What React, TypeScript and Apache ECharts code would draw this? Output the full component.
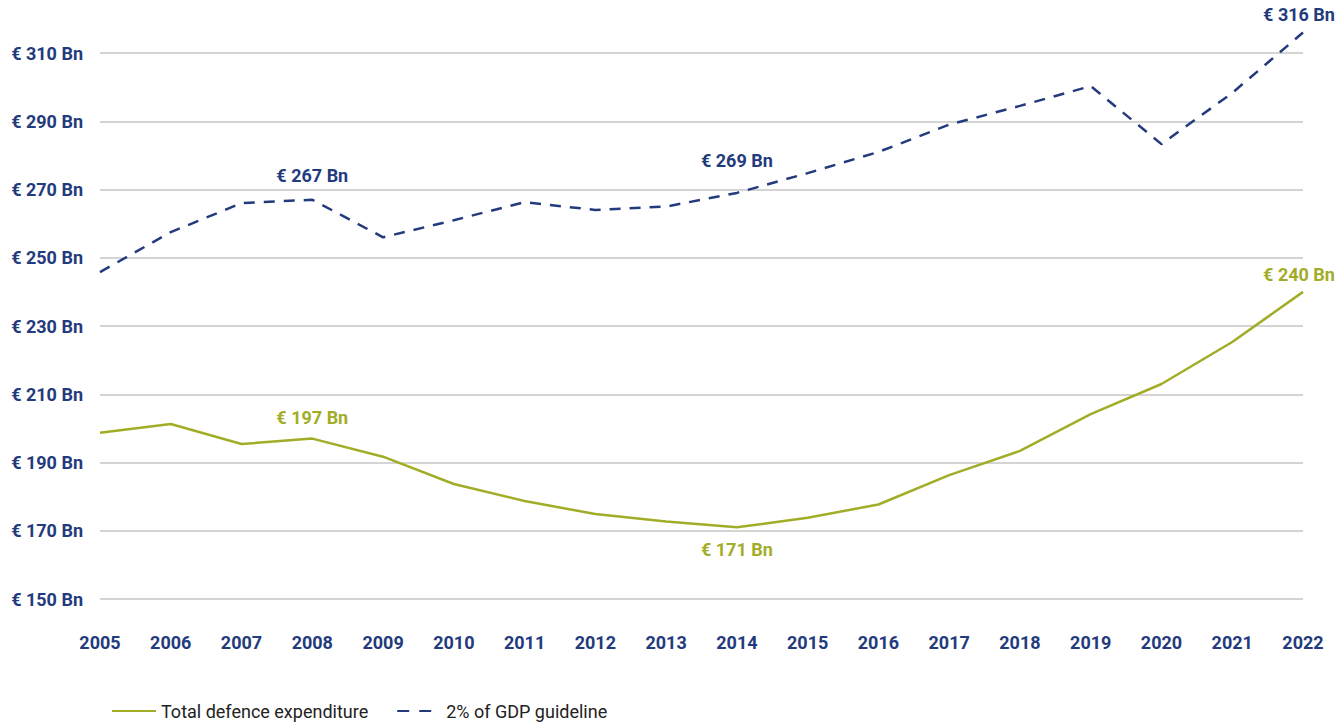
import React, { useEffect, useRef } from "react";
import * as echarts from "echarts";

const years = ["2005","2006","2007","2008","2009","2010","2011","2012","2013","2014","2015","2016","2017","2018","2019","2020","2021","2022"];
const totalDefence = [198.7, 201.3, 195.4, 197, 191.7, 183.7, 178.7, 174.9, 172.7, 171, 173.8, 177.7, 186.3, 193.4, 204.2, 213, 225.3, 240];
const gdpGuideline = [245.8, 257.5, 266, 267, 256, 261, 266.3, 264, 265, 269, 274.8, 281, 289, 294.5, 300.3, 283.3, 298.3, 316];
const yTicks = [150, 170, 190, 210, 230, 250, 270, 290, 310];

// labelled points: index -> [position, distance]
const totalLabels: Record<number, [string, number]> = { 3: ["top", 12], 9: ["bottom", 13], 17: ["top", 8] };
const gdpLabels: Record<number, [string, number]> = { 3: ["top", 15], 9: ["top", 23], 17: ["top", 9] };

const NAVY = "#233b7d";
const GREEN = "#a2ad27";
const FONT = "Roboto";

function buildData(values: number[], labels: Record<number, [string, number]>, color: string) {
  return values.map((v, i) => {
    const l = labels[i];
    if (!l) return v;
    return {
      value: v,
      label: {
        show: true,
        position: l[0],
        distance: l[1],
        formatter: "€ " + Math.round(v) + " Bn",
        color,
        fontFamily: FONT,
        fontWeight: 700,
        fontSize: 18,
        offset: i === values.length - 1 ? [-4, 0] : [0, 0],
      },
    };
  });
}

export default function App() {
  const ref = useRef<HTMLDivElement>(null);
  useEffect(() => {
    if (!ref.current) return;
    const chart = echarts.init(ref.current, null, { renderer: "svg" });
    chart.setOption({
      animation: false,
      backgroundColor: "#ffffff",
      grid: { left: 100, right: 37, top: 53, bottom: 125 },
      legend: {
        left: 106,
        top: 697,
        itemWidth: 44,
        itemHeight: 14,
        itemGap: 28,
        itemStyle: { opacity: 0 },
        textStyle: { fontFamily: FONT, fontSize: 18, color: "#222222" },
        data: [
          { name: "Total defence expenditure" },
          { name: "2% of GDP guideline", lineStyle: { type: [12, 10] } },
        ],
      },
      xAxis: {
        type: "category",
        data: years,
        boundaryGap: false,
        axisLine: { show: false },
        axisTick: { show: false },
        axisLabel: {
          margin: 34,
          color: NAVY,
          fontFamily: FONT,
          fontWeight: 700,
          fontSize: 18,
        },
        splitLine: { show: false },
      },
      yAxis: {
        type: "value",
        min: yTicks[0],
        max: yTicks[yTicks.length - 1],
        interval: 20,
        axisLine: { show: false },
        axisTick: { show: false },
        axisLabel: {
          margin: 17,
          color: NAVY,
          fontFamily: FONT,
          fontWeight: 700,
          fontSize: 18,
          formatter: (v: number) => "€ " + v + " Bn",
        },
        splitLine: { show: true, lineStyle: { color: "#c6c6c6", width: 1.5 } },
      },
      series: [
        {
          name: "Total defence expenditure",
          type: "line",
          data: buildData(totalDefence, totalLabels, GREEN),
          showSymbol: true,
          symbol: "circle",
          symbolSize: 0,
          clip: false,
          color: GREEN,
          lineStyle: { color: GREEN, width: 2.5, type: "solid" },
        },
        {
          name: "2% of GDP guideline",
          type: "line",
          data: buildData(gdpGuideline, gdpLabels, NAVY),
          showSymbol: true,
          symbol: "circle",
          symbolSize: 0,
          clip: false,
          color: NAVY,
          lineStyle: { color: NAVY, width: 2.5, type: [11, 9] },
        },
      ],
    });
    return () => chart.dispose();
  }, []);
  return <div ref={ref} style={{ width: 1340, height: 724, position: "absolute", left: 0, top: 0 }} />;
}
